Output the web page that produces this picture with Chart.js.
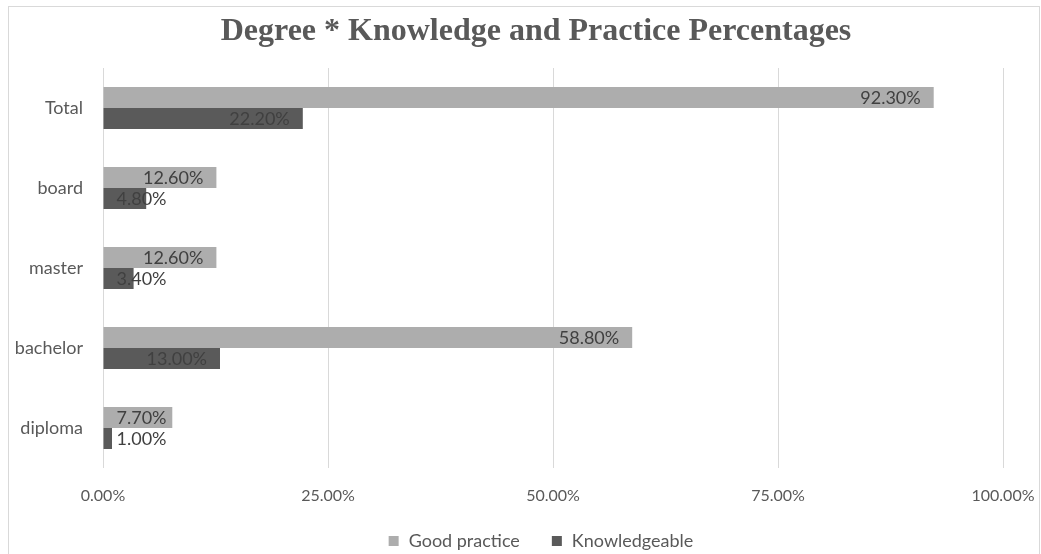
<!DOCTYPE html>
<html>
<head>
<meta charset="utf-8">
<script src="https://cdn.jsdelivr.net/npm/chart.js@4.4.1/dist/chart.umd.min.js"></script>
<style>
  html, body { margin: 0; padding: 0; background: #fff; }
  #wrap { width: 1041px; height: 554px; position: relative; }
</style>
</head>
<body>
<div id="wrap"><canvas id="degreeChart" width="1041" height="554"></canvas></div>
<script>
const categories = ['Total', 'board', 'master', 'bachelor', 'diploma'];
const goodPractice = [92.3, 12.6, 12.6, 58.8, 7.7];
const knowledgeable = [22.2, 4.8, 3.4, 13.0, 1.0];
const xTicks = [0, 25, 50, 75, 100];
const chartTitle = 'Degree * Knowledge and Practice Percentages';

// outer frame + title, drawn like the spreadsheet chart
const framePlugin = {
  id: 'frame',
  beforeDraw(chart) {
    const c = chart.ctx;
    c.save();
    c.fillStyle = '#fff';
    c.fillRect(0, 0, chart.width, chart.height);
    c.strokeStyle = '#d9d9d9';
    c.lineWidth = 1;
    c.strokeRect(8.5, 6.5, 1031, 560);
    c.font = 'bold 32px "Liberation Serif"';
    c.fillStyle = '#595959';
    c.textAlign = 'center';
    c.textBaseline = 'middle';
    c.fillText(chartTitle, 536, 32);
    c.restore();
  }
};

// legend at the bottom, spaced like Excel
const bottomLegend = {
  id: 'bottomLegend',
  afterDraw(chart) {
    const c = chart.ctx;
    c.save();
    c.font = '18px Lato';
    c.textBaseline = 'middle';
    c.textAlign = 'left';
    const box = 10, gapText = 10, gapItem = 32, y = 541;
    const items = chart.data.datasets.map(ds => ({
      text: ds.label, color: ds.backgroundColor, w: c.measureText(ds.label).width
    }));
    const total = items.reduce((s, it) => s + box + gapText + it.w, 0) + gapItem * (items.length - 1);
    let x = 541 - total / 2;
    items.forEach(it => {
      c.fillStyle = it.color;
      c.fillRect(x, y - box / 2, box, box);
      c.fillStyle = '#595959';
      c.fillText(it.text, x + box + gapText, y);
      x += box + gapText + it.w + gapItem;
    });
    c.restore();
  }
};

// Excel-like "inside end" labels, pushed right when the bar is too short
const barLabels = {
  id: 'barLabels',
  afterDatasetsDraw(chart) {
    const c = chart.ctx;
    c.save();
    c.font = '18px Lato';
    c.fillStyle = '#404040';
    c.textAlign = 'right';
    c.textBaseline = 'middle';
    chart.data.datasets.forEach((ds, i) => {
      chart.getDatasetMeta(i).data.forEach((bar, j) => {
        const txt = ds.data[j].toFixed(2) + '%';
        const w = c.measureText(txt).width;
        const right = Math.max(bar.x - 13, bar.base + 13 + w);
        c.fillText(txt, right, bar.y + 1);
      });
    });
    c.restore();
  }
};

const ctx = document.getElementById('degreeChart').getContext('2d');
new Chart(ctx, {
  type: 'bar',
  data: {
    labels: categories,
    datasets: [
      {
        label: 'Good practice',
        data: goodPractice,
        backgroundColor: '#adadad',
        borderWidth: 0
      },
      {
        label: 'Knowledgeable',
        data: knowledgeable,
        backgroundColor: '#5a5a5a',
        borderWidth: 0
      }
    ]
  },
  options: {
    indexAxis: 'y',
    responsive: false,
    animation: false,
    categoryPercentage: 0.525,
    barPercentage: 1,
    layout: { padding: { left: 0, right: 38, top: 68, bottom: 53 } },
    scales: {
      x: {
        min: 0,
        max: 100,
        afterBuildTicks: s => { s.ticks = xTicks.map(v => ({ value: v })); },
        afterFit: s => { s.height = 33; s.paddingLeft = 0; s.paddingRight = 0; },
        grid: { color: '#d9d9d9', drawTicks: false },
        border: { display: false },
        ticks: {
          padding: 18,
          color: '#595959',
          font: { family: 'Lato', size: 16 },
          callback: v => v.toFixed(2) + '%'
        }
      },
      y: {
        afterFit: s => { s.width = 103; s.paddingTop = 0; s.paddingBottom = 0; },
        grid: { display: false, drawTicks: false },
        border: { display: false },
        ticks: {
          padding: 20,
          color: '#595959',
          font: { family: 'Lato', size: 18 }
        }
      }
    },
    plugins: {
      title: { display: false },
      legend: { display: false },
      tooltip: { enabled: false }
    }
  },
  plugins: [framePlugin, barLabels, bottomLegend]
});
</script>
</body>
</html>
